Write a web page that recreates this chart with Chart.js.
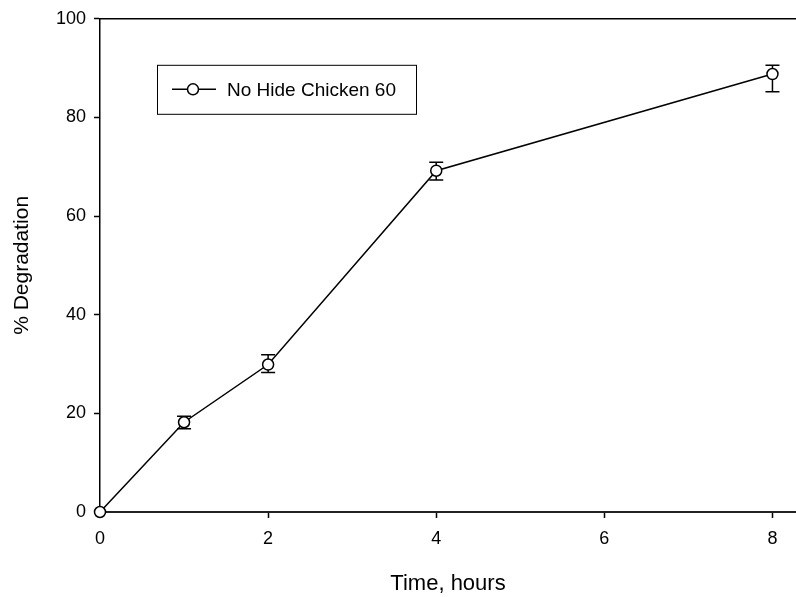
<!DOCTYPE html>
<html>
<head>
<meta charset="utf-8">
<script src="https://cdn.jsdelivr.net/npm/chart.js@4.4.1/dist/chart.umd.min.js"></script>
<style>
  html, body { margin: 0; padding: 0; background: #fff; }
  #wrap { width: 796px; height: 597px; }
</style>
</head>
<body>
<div id="wrap"><canvas id="chart" width="796" height="597"></canvas></div>
<script>
// degradation over time, mean with upper / lower error limits
var hours = [0, 1, 2, 4, 8];
var degradation = [0, 18.2, 29.9, 69.2, 88.8];
var errHigh = [0, 19.4, 31.9, 70.9, 90.6];
var errLow = [0, 16.9, 28.3, 67.3, 85.2];
var xTicks = [0, 2, 4, 6, 8];
var yTicks = [0, 20, 40, 60, 80, 100];
var seriesName = "No Hide Chicken 60";

var FONT = "'Liberation Sans', Arial, sans-serif";

var errorBars = {
    id: "errorBars",
    beforeDatasetsDraw: function(chart) {
        var ctx = chart.ctx;
        var xs = chart.scales.x, ys = chart.scales.y;
        ctx.save();
        ctx.strokeStyle = "#000";
        ctx.lineWidth = 1.5;
        for (var i = 0; i < hours.length; i++) {
            if (errHigh[i] === errLow[i]) {
                continue;
            }
            var px = xs.getPixelForValue(hours[i]);
            var top = ys.getPixelForValue(errHigh[i]);
            var bot = ys.getPixelForValue(errLow[i]);
            ctx.beginPath();
            ctx.moveTo(px, top);
            ctx.lineTo(px, bot);
            ctx.moveTo(px - 7, top);
            ctx.lineTo(px + 7, top);
            ctx.moveTo(px - 7, bot);
            ctx.lineTo(px + 7, bot);
            ctx.stroke();
        }
        ctx.restore();
    }
};

// top frame line and boxed legend
var frameAndLegend = {
    id: "frameAndLegend",
    afterDatasetsDraw: function(chart) {
        var ctx = chart.ctx;
        var a = chart.chartArea;
        ctx.save();
        ctx.strokeStyle = "#000";
        ctx.lineWidth = 1.5;
        ctx.beginPath();
        ctx.moveTo(a.left, a.top);
        ctx.lineTo(a.right, a.top);
        ctx.stroke();

        var bx = a.left + 57, by = a.top + 46, bw = 259, bh = 49;
        ctx.lineWidth = 1;
        ctx.strokeRect(bx + 0.5, by + 0.5, bw, bh);
        var cy = by + bh / 2;
        ctx.lineWidth = 1.5;
        ctx.beginPath();
        ctx.moveTo(bx + 15, cy);
        ctx.lineTo(bx + 59, cy);
        ctx.stroke();
        ctx.beginPath();
        ctx.arc(bx + 36, cy, 5.5, 0, Math.PI * 2);
        ctx.fillStyle = "#fff";
        ctx.fill();
        ctx.stroke();
        ctx.fillStyle = "#000";
        ctx.font = "19px " + FONT;
        ctx.textBaseline = "middle";
        ctx.fillText(seriesName, bx + 70, cy + 1);
        ctx.restore();
    }
};

new Chart(document.getElementById("chart"), {
    type: "line",
    data: {
        datasets: [{
            label: seriesName,
            data: hours.map(function(h, i) { return { x: h, y: degradation[i] }; }),
            borderColor: "#000",
            borderWidth: 1.5,
            backgroundColor: "#fff",
            pointBackgroundColor: "#fff",
            pointBorderColor: "#000",
            pointBorderWidth: 1.5,
            pointRadius: 5.5,
            tension: 0,
            clip: false
        }]
    },
    options: {
        responsive: false,
        animation: false,
        events: [],
        layout: { autoPadding: false, padding: { top: 16, right: 0, left: 10, bottom: 0 } },
        plugins: { legend: { display: false }, tooltip: { enabled: false } },
        scales: {
            x: {
                type: "linear",
                min: 0,
                max: 8.28,
                afterBuildTicks: function(scale) {
                    scale.ticks = xTicks.map(function(v) { return { value: v }; });
                },
                afterFit: function(scale) {
                    scale.paddingRight = 0;
                    scale.height = 85;
                },
                grid: { drawOnChartArea: false, drawTicks: true, tickLength: 6, tickWidth: 1.5, tickColor: "#000" },
                border: { color: "#222", width: 2 },
                ticks: { color: "#000", font: { family: FONT, size: 18 }, padding: 10, maxRotation: 0 },
                title: { display: true, text: "Time, hours", color: "#000", font: { family: FONT, size: 22 }, padding: { top: 10, bottom: 0 } }
            },
            y: {
                min: 0,
                max: 100,
                afterBuildTicks: function(scale) {
                    scale.ticks = yTicks.map(function(v) { return { value: v }; });
                },
                afterFit: function(scale) { scale.width = 90; },
                grid: { drawOnChartArea: false, drawTicks: true, tickLength: 6, tickWidth: 1.5, tickColor: "#000" },
                border: { color: "#000", width: 1.5 },
                ticks: { color: "#000", font: { family: FONT, size: 18 }, padding: 8 },
                title: { display: true, text: "% Degradation", color: "#000", font: { family: FONT, size: 21 }, padding: { top: 0, bottom: 10 } }
            }
        }
    },
    plugins: [errorBars, frameAndLegend]
});
</script>
</body>
</html>
